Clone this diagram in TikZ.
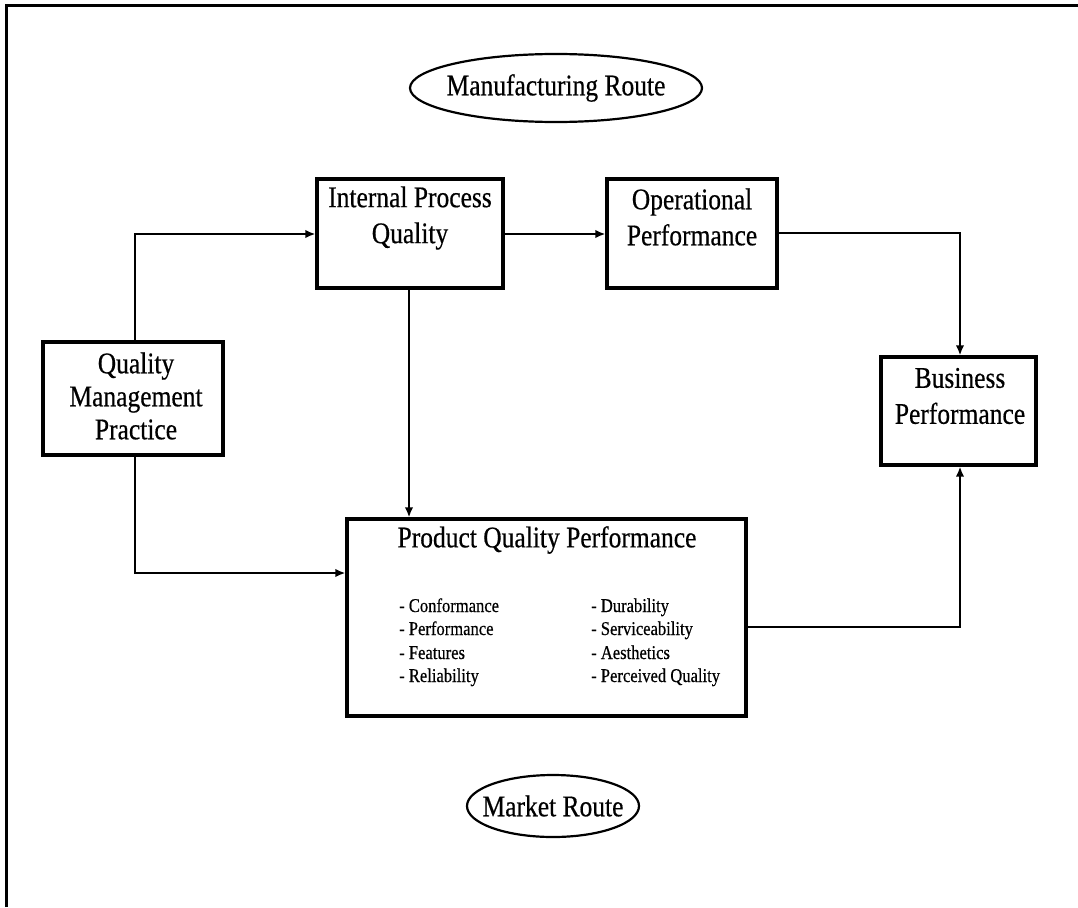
\documentclass[tikz,border=0pt]{standalone}
\usepackage{fontspec}
\setmainfont[FakeStretch=0.85,FakeBold=0.5]{Liberation Serif}
\usetikzlibrary{arrows.meta,shapes.geometric}
\begin{document}
\begin{tikzpicture}[x=1pt,y=-1pt,
  box/.style={draw,line width=3.2pt,inner sep=0pt},
  oval/.style={draw,ellipse,line width=2.2pt,inner sep=0pt},
  lbl/.style={align=center,inner sep=0pt,font=\fontsize{30}{36}\selectfont},
  item/.style={anchor=base west,inner sep=0pt,font=\fontsize{19.5}{23}\selectfont},
  link/.style={line width=2.6pt},
  arr/.style={link,-{Latex[length=10pt,width=8.5pt]}}]
\useasboundingbox (0,0) rectangle (1078,907);

% frame (top and left edges)
\draw[line width=3.2pt] (6.5,907) -- (6.5,5.5) -- (1078,5.5);

% route ovals
\node[oval,minimum width=292pt,minimum height=68pt] (mfg) at (556,88) {};
\node[lbl] (mfgtext) at (mfg.center) {Manufacturing Route};
\node[oval,minimum width=172pt,minimum height=62pt] (mkt) at (553,806) {};
\node[lbl] (mkttext) at (mkt.center) {Market Route};

% boxes
\node[box,minimum width=186pt,minimum height=109pt] (ipq) at (410,233.5) {};
\node[lbl] (ipqtext) at (410,218) {Internal Process\\Quality};
\node[box,minimum width=170pt,minimum height=109pt] (op) at (692,233.5) {};
\node[lbl] (optext) at (692,217) {Operational\\Performance};
\node[box,minimum width=180pt,minimum height=113pt] (qmp) at (133,398.5) {};
\node[lbl,font=\fontsize{30}{33}\selectfont] (qmptext) at (136,396) {Quality\\Management\\Practice};
\node[box,minimum width=155pt,minimum height=108pt] (bp) at (958.5,411) {};
\node[lbl] (bptext) at (960,396) {Business\\Performance};
\node[box,minimum width=399pt,minimum height=197pt] (pqp) at (546.5,617.5) {};
\node[lbl] (pqptext) at (547,540) {Product Quality Performance};

% quality dimensions
\node[item] (d1) at (399,612) {- Conformance};
\node[item] (d2) at (399,635) {- Performance};
\node[item] (d3) at (399,659) {- Features};
\node[item] (d4) at (399,682) {- Reliability};
\node[item] (d5) at (591,612) {- Durability};
\node[item] (d6) at (591,635) {- Serviceability};
\node[item] (d7) at (591,659) {- Aesthetics};
\node[item] (d8) at (591,682) {- Perceived Quality};

% connectors
\coordinate (qa) at (135,234);
\coordinate (qb) at (135,573);
\coordinate (oc) at (960,233);
\coordinate (pc) at (960,627);
\draw[arr] (qmp.north -| qa) -- (qa) -- (ipq.west |- qa);
\draw[arr] (ipq.east |- qa) -- (op.west |- qa);
\draw[arr] (op.east |- oc) -- (oc) -- (bp.north -| oc);
\draw[arr] (ipq.south -| 409,0) -- (pqp.north -| 409,0);
\draw[arr] (qmp.south -| qb) -- (qb) -- (pqp.west |- qb);
\draw[arr] (pqp.east |- pc) -- (pc) -- (bp.south -| pc);
\end{tikzpicture}
\end{document}
